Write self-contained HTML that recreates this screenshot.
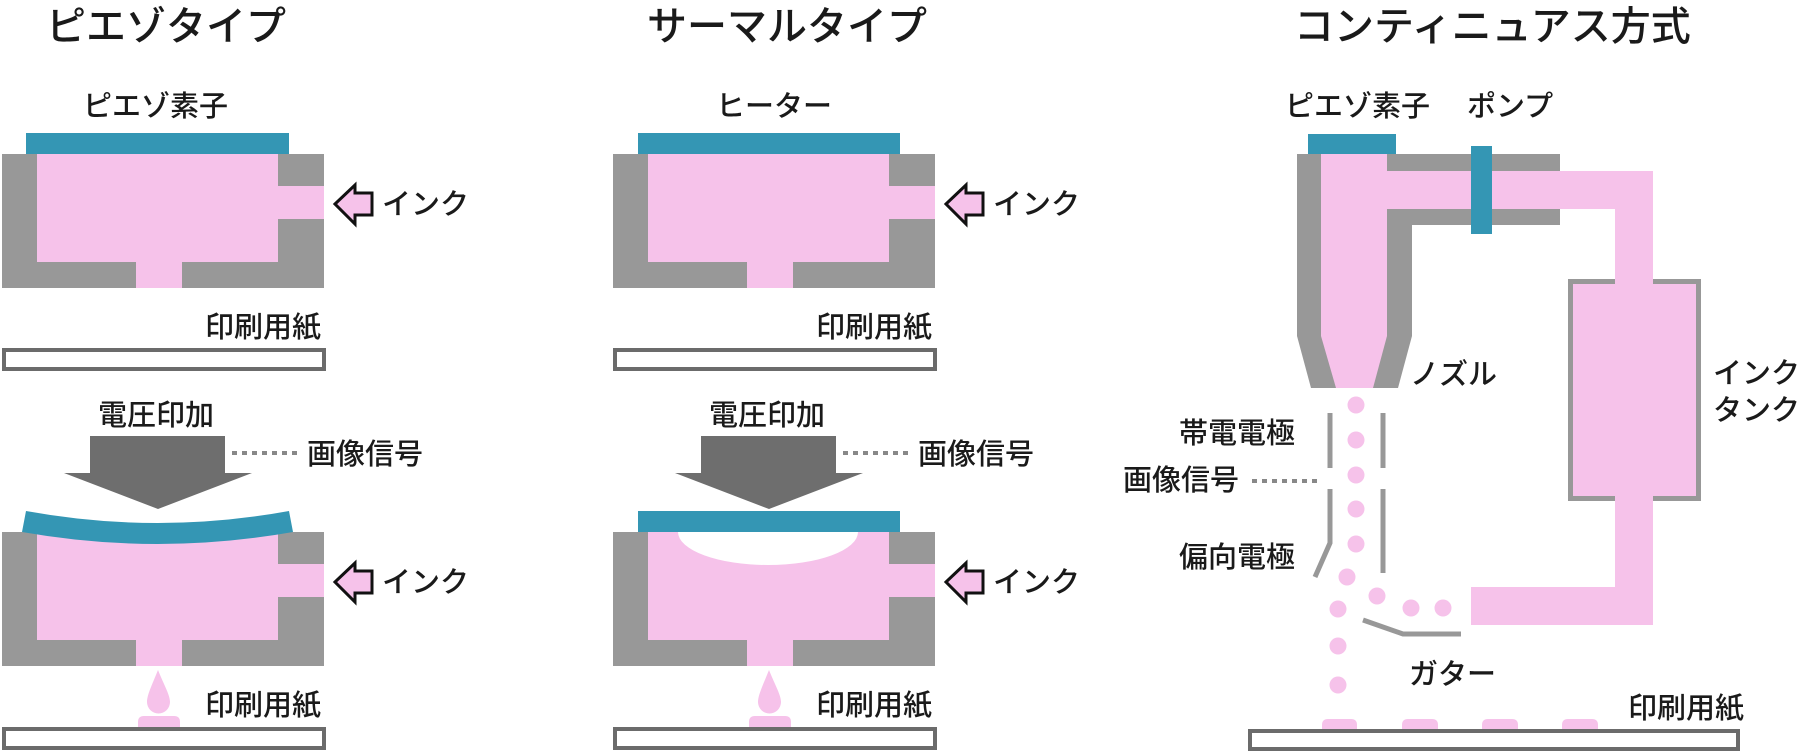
<!DOCTYPE html>
<html><head><meta charset="utf-8"><style>
html,body{margin:0;padding:0;background:#fff;}
svg{display:block}
text{font-family:"Liberation Sans","Noto Sans CJK JP",sans-serif;fill:#1a1a1a;font-weight:500;}
.t{font-size:40px}
.l{font-size:29px}
</style></head><body>
<svg width="1802" height="751" viewBox="0 0 1802 751" xmlns="http://www.w3.org/2000/svg">
<defs>
<g id="inkarrow">
<path d="M335,204 L355,185 L355,193 L372,193 L372,215 L355,215 L355,224 Z" fill="#f6c2ea" stroke="#111" stroke-width="3" stroke-linejoin="miter"/>
</g>
<g id="bigarrow">
<path d="M90,436 L225,436 L225,473 L252,473 L158,509 L64,473 L90,473 Z" fill="#6e6e6e"/>
</g>
<g id="body">
<rect x="2" y="0" width="322" height="134" fill="#989898"/>
<rect x="37" y="0" width="241" height="108" fill="#f6c2ea"/>
<rect x="278" y="32" width="46" height="33" fill="#f6c2ea"/>
<rect x="136" y="108" width="46" height="26" fill="#f6c2ea"/>
</g>
<g id="paper">
<rect x="4" y="0" width="320" height="19" fill="#fff" stroke="#6b6b6b" stroke-width="4"/>
</g>
</defs>

<!-- Column 1: Piezo -->
<text class="t" x="46" y="40">ピエゾタイプ</text>
<text class="l" x="83" y="116">ピエゾ素子</text>
<rect x="26" y="133" width="263" height="21" fill="#3496b4"/>
<use href="#body" y="154"/>
<use href="#inkarrow"/>
<text class="l" x="382" y="214">インク</text>
<text class="l" x="205" y="337">印刷用紙</text>
<use href="#paper" y="350"/>
<text class="l" x="98" y="425">電圧印加</text>
<use href="#bigarrow"/>
<line x1="232" y1="453" x2="300" y2="453" stroke="#888" stroke-width="4" stroke-dasharray="5,5"/>
<text class="l" x="307" y="464">画像信号</text>
<use href="#body" y="532"/>
<path d="M22,532 L26,511 Q158,535 289,511 L293,532 Q158,556 22,532 Z" fill="#3496b4"/>
<use href="#inkarrow" y="378"/>
<text class="l" x="382" y="592">インク</text>
<path d="M158,670 C152,685 147,695 147,702 A11.5,11.5 0 0 0 170,702 C170,695 164,685 158,670Z" fill="#f6c2ea"/>
<path d="M138,729 L138,722 Q138,716 144,716 L174,716 Q180,716 180,722 L180,729Z" fill="#f6c2ea"/>
<text class="l" x="205" y="715">印刷用紙</text>
<use href="#paper" y="729"/>

<!-- Column 2: Thermal -->
<g transform="translate(611,0)">
<text class="t" x="36" y="40">サーマルタイプ</text>
<text class="l" x="105" y="116">ヒーター</text>
<rect x="27" y="133" width="262" height="21" fill="#3496b4"/>
<use href="#body" y="154"/>
<use href="#inkarrow"/>
<text class="l" x="382" y="214">インク</text>
<text class="l" x="205" y="337">印刷用紙</text>
<use href="#paper" y="350"/>
<text class="l" x="98" y="425">電圧印加</text>
<use href="#bigarrow"/>
<line x1="232" y1="453" x2="300" y2="453" stroke="#888" stroke-width="4" stroke-dasharray="5,5"/>
<text class="l" x="307" y="464">画像信号</text>
<use href="#body" y="532"/>
<path d="M67,532 A90,33 0 0 0 247,532 Z" fill="#fff"/>
<rect x="27" y="511" width="262" height="21" fill="#3496b4"/>
<use href="#inkarrow" y="378"/>
<text class="l" x="382" y="592">インク</text>
<path d="M158,670 C152,685 147,695 147,702 A11.5,11.5 0 0 0 170,702 C170,695 164,685 158,670Z" fill="#f6c2ea"/>
<path d="M138,729 L138,722 Q138,716 144,716 L174,716 Q180,716 180,722 L180,729Z" fill="#f6c2ea"/>
<text class="l" x="205" y="715">印刷用紙</text>
<use href="#paper" y="729"/>
</g>

<!-- Column 3: Continuous -->
<text class="t" x="1294" y="40">コンティニュアス方式</text>
<text class="l" x="1285" y="116">ピエゾ素子</text>
<text class="l" x="1467" y="116">ポンプ</text>
<rect x="1308" y="134" width="88" height="20" fill="#3496b4"/>
<rect x="1297" y="154" width="115" height="182" fill="#989898"/>
<rect x="1387" y="154" width="173" height="71" fill="#989898"/>
<rect x="1321" y="154" width="66" height="182" fill="#f6c2ea"/>
<rect x="1387" y="171" width="266" height="38" fill="#f6c2ea"/>
<path d="M1297,336 L1412,336 L1398,388 L1311,388 Z" fill="#989898"/>
<path d="M1321,336 L1387,336 L1373,388 L1336,388 Z" fill="#f6c2ea"/>
<rect x="1471" y="146" width="21" height="88" fill="#3496b4"/>
<rect x="1615" y="171" width="38" height="454" fill="#f6c2ea"/>
<rect x="1570.5" y="281.5" width="128" height="217" fill="#f6c2ea" stroke="#989898" stroke-width="5"/>
<rect x="1615" y="279" width="38" height="224" fill="#f6c2ea"/>
<rect x="1471" y="587" width="182" height="38" fill="#f6c2ea"/>
<text class="l" x="1713" y="383">インク</text>
<text class="l" x="1713" y="420">タンク</text>
<text class="l" x="1410" y="384">ノズル</text>
<g stroke="#989898" stroke-width="5" fill="none">
<line x1="1330" y1="413" x2="1330" y2="468"/>
<line x1="1383" y1="413" x2="1383" y2="468"/>
<polyline points="1330,489 1330,543 1315,577"/>
<line x1="1383" y1="489" x2="1383" y2="573"/>
<polyline points="1363,620 1403,634 1461,634"/>
</g>
<line x1="1252" y1="481" x2="1322" y2="481" stroke="#888" stroke-width="4" stroke-dasharray="5,5"/>
<text class="l" x="1179" y="443">帯電電極</text>
<text class="l" x="1123" y="490">画像信号</text>
<text class="l" x="1179" y="567">偏向電極</text>
<g fill="#f6c2ea">
<circle cx="1356" cy="405" r="8.5"/>
<circle cx="1356" cy="440" r="8.5"/>
<circle cx="1356" cy="475" r="8.5"/>
<circle cx="1356" cy="509" r="8.5"/>
<circle cx="1356" cy="544" r="8.5"/>
<circle cx="1347" cy="577" r="8.5"/>
<circle cx="1377" cy="596" r="8.5"/>
<circle cx="1411" cy="608" r="8.5"/>
<circle cx="1443" cy="608" r="8.5"/>
<circle cx="1338" cy="609" r="8.5"/>
<circle cx="1338" cy="646" r="8.5"/>
<circle cx="1338" cy="685" r="8.5"/>
<path d="M1322,731 L1322,725 Q1322,719 1328,719 L1351,719 Q1357,719 1357,725 L1357,731Z"/>
<path d="M1402,731 L1402,725 Q1402,719 1408,719 L1432,719 Q1438,719 1438,725 L1438,731Z"/>
<path d="M1482,731 L1482,725 Q1482,719 1488,719 L1512,719 Q1518,719 1518,725 L1518,731Z"/>
<path d="M1562,731 L1562,725 Q1562,719 1568,719 L1592,719 Q1598,719 1598,725 L1598,731Z"/>
</g>
<text class="l" x="1409" y="684">ガター</text>
<text class="l" x="1628" y="718">印刷用紙</text>
<rect x="1250" y="731" width="488" height="18" fill="#fff" stroke="#6b6b6b" stroke-width="4"/>
</svg>
</body></html>
